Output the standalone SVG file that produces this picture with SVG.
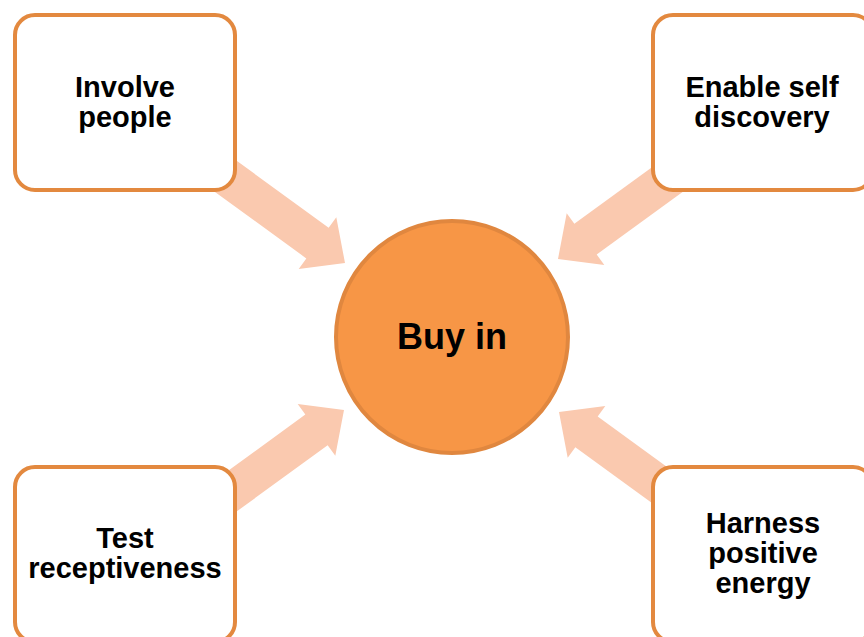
<svg xmlns="http://www.w3.org/2000/svg" width="864" height="637" viewBox="0 0 864 637">
<defs>
<style>
.box{fill:#ffffff;stroke:#E3893F;stroke-width:4}
.arrow{fill:#FAC9AF;stroke:none}
.lbl{font-family:"Liberation Sans",Arial,sans-serif;font-weight:bold;font-size:29px;fill:#000000;text-anchor:middle}
.hub{font-family:"Liberation Sans",Arial,sans-serif;font-weight:bold;font-size:36px;fill:#000000;text-anchor:middle}
</style>
<path id="arr" d="M0,0 L-34,-32 L-34,-19 L-175,-19 L-175,19 L-34,19 L-34,32 Z"/>
</defs>
<rect width="864" height="637" fill="#ffffff"/>
<g id="connectors">
<use href="#arr" class="arrow" transform="translate(345,263) rotate(36)"/>
<use href="#arr" class="arrow" transform="translate(558,259) rotate(144)"/>
<use href="#arr" class="arrow" transform="translate(344,410) rotate(-36)"/>
<use href="#arr" class="arrow" transform="translate(559,412) rotate(-144)"/>
</g>
<g id="hub">
<circle cx="452" cy="337" r="116" fill="#F79646" stroke="#E0873F" stroke-width="4"/>
<text class="hub" x="452" y="349">Buy in</text>
</g>
<g id="involve">
<rect class="box" x="15" y="15" width="220" height="175" rx="20"/>
<text class="lbl" x="125" y="97">Involve</text>
<text class="lbl" x="125" y="127">people</text>
</g>
<g id="enable">
<rect class="box" x="653" y="15" width="220" height="175" rx="20"/>
<text class="lbl" x="762" y="97">Enable self</text>
<text class="lbl" x="762" y="127">discovery</text>
</g>
<g id="test">
<rect class="box" x="15" y="467" width="220" height="175" rx="20"/>
<text class="lbl" x="125" y="548">Test</text>
<text class="lbl" x="125" y="578">receptiveness</text>
</g>
<g id="harness">
<rect class="box" x="653" y="467" width="220" height="175" rx="20"/>
<text class="lbl" x="763" y="533">Harness</text>
<text class="lbl" x="763" y="563">positive</text>
<text class="lbl" x="763" y="593">energy</text>
</g>
</svg>
